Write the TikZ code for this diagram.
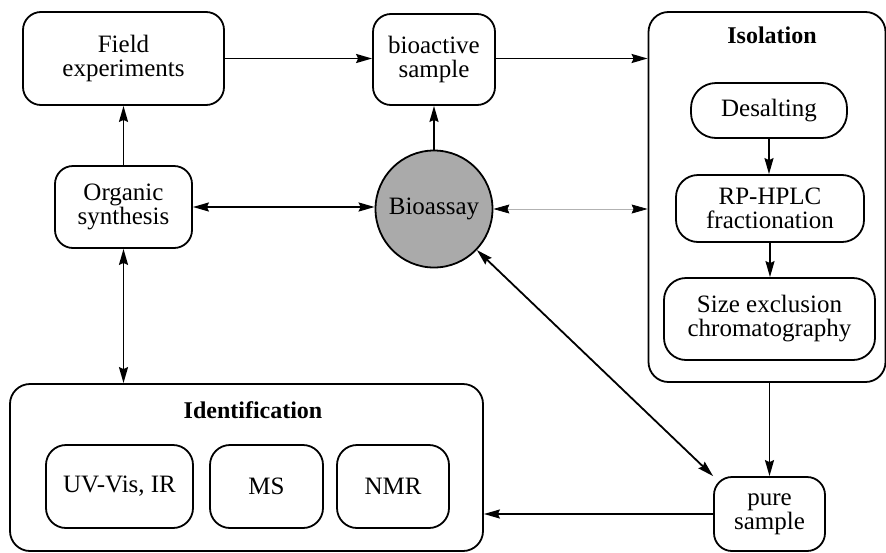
\documentclass[tikz,border=0pt]{standalone}
\usepackage{fontspec}
\setmainfont{LiberationSerif}[Extension=.ttf,UprightFont=*-Regular,BoldFont=*-Bold,ItalicFont=*-Italic,BoldItalicFont=*-BoldItalic]
\usetikzlibrary{arrows.meta}
\definecolor{bgray}{RGB}{170,170,170}
\begin{document}
\begin{tikzpicture}[x=1pt,y=-1pt,
  every node/.style={font=\fontsize{25}{24}\selectfont},
  box/.style={draw,line width=1.8pt,rounded corners=18pt,align=center,inner sep=0pt},
  arr/.style={line width=1.8pt,-{Stealth[length=16pt,width=9pt,inset=2pt]}},
  darr/.style={line width=1.8pt,{Stealth[length=16pt,width=9pt,inset=2pt]}-{Stealth[length=16pt,width=9pt,inset=2pt]}},
  thinarr/.style={line width=0.7pt,draw=gray!60,{Stealth[length=16pt,width=9pt,inset=2pt,color=black]}-{Stealth[length=16pt,width=9pt,inset=2pt,color=black]}},
  title/.style={font=\fontsize{24}{24}\selectfont\bfseries}]
\useasboundingbox (0,0) rectangle (886,552);
% nodes
\node[box,minimum width=201pt,minimum height=93pt] (field) at (123.5,58.5) {Field\\experiments};
\node[box,minimum width=122pt,minimum height=91pt] (bio) at (434,59.5) {bioactive\\sample};
\node[box,rounded corners=20pt,minimum width=237pt,minimum height=370pt] (iso) at (767,197) {};
\node[title] (isot) at (772,35) {Isolation};
\node[box,rounded corners=25pt,minimum width=156pt,minimum height=55pt] (desalt) at (769,110.5) {Desalting};
\node[box,rounded corners=22pt,minimum width=188pt,minimum height=67pt] (rphplc) at (770,208.5) {RP-HPLC\\fractionation};
\node[box,rounded corners=22pt,minimum width=211pt,minimum height=82pt] (sec) at (769.5,319) {Size exclusion\\chromatography};
\node[box,minimum width=111pt,minimum height=74pt] (pure) at (769.5,514) {pure\\sample};
\node[box,minimum width=137pt,minimum height=82pt] (org) at (123.5,207) {Organic\\synthesis};
\node[circle,draw,line width=1.8pt,fill=bgray,minimum size=117pt,inner sep=0pt] (assay) at (434,209) {Bioassay};
\node[box,rounded corners=20pt,minimum width=473pt,minimum height=167pt] (ident) at (246.5,467.5) {};
\node[title] (identt) at (253,410) {Identification};
\node[box,rounded corners=20pt,minimum width=147pt,minimum height=83pt] (uv) at (119.5,486.5) {UV-Vis, IR};
\node[box,rounded corners=20pt,minimum width=113pt,minimum height=83pt] (ms) at (266.5,486.5) {MS};
\node[box,rounded corners=20pt,minimum width=112pt,minimum height=83pt] (nmr) at (393,486.5) {NMR};
% connectors
\draw[arr] (field.east) -- (field.east -| bio.west);
\draw[arr] (bio.east |- field.east) -- (field.east -| iso.west);
\draw[arr] (org.north) -- (org.north |- field.south);
\draw[arr] (assay.north) -- (assay.north |- bio.south);
\draw[darr] (org.east) -- (org.east -| assay.west);
\draw[thinarr] (assay.east) -- (assay.east -| iso.west);
\draw[darr] (org.south) -- (org.south |- ident.north);
\draw[arr] (desalt.south) -- (desalt.south |- rphplc.north);
\draw[arr] (rphplc.south) -- (rphplc.south |- sec.north);
\draw[arr] (pure.north |- iso.south) -- (pure.north);
\draw[darr] (assay) -- (pure.north west);
\draw[arr] (pure.west) -- (pure.west -| ident.east);
\end{tikzpicture}
\end{document}
